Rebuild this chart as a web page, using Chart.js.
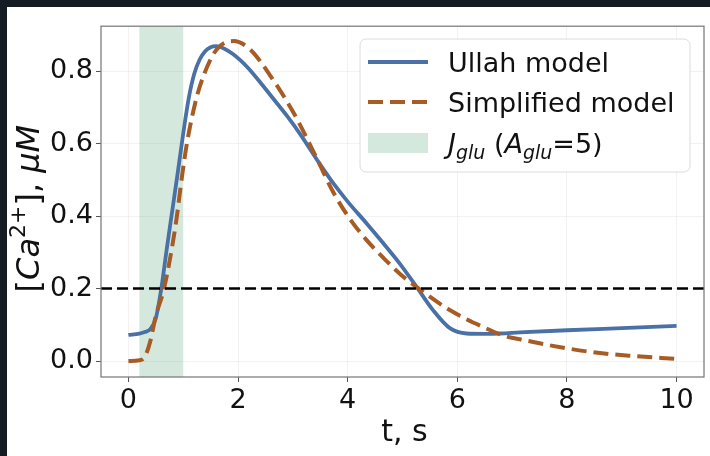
<!DOCTYPE html>
<html>
<head>
<meta charset="utf-8">
<script src="https://cdn.jsdelivr.net/npm/chart.js@4.4.1/dist/chart.umd.min.js"></script>
<style>
  html, body { margin: 0; padding: 0; background: #151b23; }
  #wrap { position: absolute; left: 7px; top: 7px; width: 703px; height: 449px; background: #fff; }
</style>
</head>
<body>
<div id="wrap"><canvas id="caChart" width="703" height="449"></canvas></div>
<script>
// ── data ──
const ullahT  = [0, 0.2, 0.3, 0.4, 0.5, 0.6, 0.7, 0.8, 0.9, 1.0, 1.1, 1.2, 1.3, 1.4, 1.5, 1.6, 1.75, 1.9, 2.05, 2.2, 2.4, 2.6, 2.89, 3.13, 3.5, 3.74, 4.0, 4.35, 4.65, 4.95, 5.26, 5.56, 5.87, 6.17, 6.5, 6.78, 7.14, 8, 9, 10];
const ullahCa = [0.072, 0.076, 0.08, 0.088, 0.118, 0.2, 0.31, 0.415, 0.52, 0.628, 0.725, 0.792, 0.832, 0.855, 0.866, 0.869, 0.862, 0.848, 0.829, 0.806, 0.77, 0.732, 0.677, 0.627, 0.542, 0.49, 0.44, 0.379, 0.325, 0.269, 0.204, 0.14, 0.09, 0.076, 0.075, 0.076, 0.079, 0.085, 0.091, 0.097];

const simpT  = [0, 0.2, 0.3, 0.4, 0.5, 0.65, 0.86, 0.98, 1.07, 1.22, 1.37, 1.61, 1.92, 2.22, 2.59, 3.01, 3.44, 3.74, 4.05, 4.35, 4.65, 4.95, 5.26, 5.87, 6.47, 6.87, 7.14, 8, 8.6, 9.2, 10];
const simpCa = [0, 0.002, 0.012, 0.055, 0.125, 0.2, 0.374, 0.512, 0.603, 0.713, 0.787, 0.86, 0.883, 0.86, 0.787, 0.686, 0.558, 0.465, 0.39, 0.333, 0.285, 0.241, 0.204, 0.14, 0.094, 0.069, 0.06, 0.035, 0.022, 0.014, 0.006];

const gluWindow = [0.2, 1.0];   // J_glu stimulus interval, s
const threshold = 0.2;          // dashed reference level
const xRange = [-0.5, 10.5];
const yRange = [-0.044, 0.924];
const xTicks = [0, 2, 4, 6, 8, 10];
const yTicks = [0, 0.2, 0.4, 0.6, 0.8];

const BLUE = '#4a71a6';
const BROWN = '#a85c25';
const FONT = '"DejaVu Sans", sans-serif';

// draw a run of text pieces (italic / sub / sup) starting at x
function richText(c, parts, x, y, size, align) {
  const fontOf = p => (p.it ? 'italic ' : '') + Math.round(p.sub || p.sup ? size * 0.7 : size) + 'px ' + FONT;
  let total = 0;
  parts.forEach(p => { c.font = fontOf(p); total += c.measureText(p.t).width; });
  let cx = align === 'center' ? x - total / 2 : x;
  c.textAlign = 'left';
  c.textBaseline = 'alphabetic';
  parts.forEach(p => {
    c.font = fontOf(p);
    let dy = 0;
    if (p.sub) dy = size * 0.22;
    if (p.sup) dy = -size * 0.45;
    c.fillText(p.t, cx, y + dy);
    cx += c.measureText(p.t).width;
  });
}

const extras = {
  id: 'extras',
  beforeDatasetsDraw(ch) {
    const { ctx: c, chartArea: a, scales: { x } } = ch;
    c.save();
    c.fillStyle = 'rgba(46,139,87,0.2)';
    const x0 = x.getPixelForValue(gluWindow[0]), x1 = x.getPixelForValue(gluWindow[1]);
    c.fillRect(x0, a.top, x1 - x0, a.bottom - a.top);
    c.restore();
  },
  afterDraw(ch) {
    const { ctx: c, chartArea: a } = ch;
    c.save();
    // frame
    c.strokeStyle = '#7a7a7a';
    c.lineWidth = 1.25;
    c.strokeRect(a.left, a.top, a.right - a.left, a.bottom - a.top);

    // legend
    const lx = 353, ly = 32, lw = 330, lh = 133;
    c.beginPath();
    c.roundRect(lx, ly, lw, lh, 6);
    c.fillStyle = 'rgba(255,255,255,0.85)';
    c.fill();
    c.strokeStyle = '#dcdcdc';
    c.lineWidth = 1;
    c.stroke();

    const hx0 = 361, hx1 = 421, tx = 441;
    const rows = [55, 95, 136];
    c.lineWidth = 4;
    c.strokeStyle = BLUE;
    c.beginPath(); c.moveTo(hx0, rows[0]); c.lineTo(hx1, rows[0]); c.stroke();
    c.strokeStyle = BROWN;
    c.setLineDash([15, 7]);
    c.beginPath(); c.moveTo(hx0, rows[1]); c.lineTo(hx1, rows[1]); c.stroke();
    c.setLineDash([]);
    c.fillStyle = 'rgba(46,139,87,0.2)';
    c.fillRect(hx0, rows[2] - 10, hx1 - hx0, 20);

    c.fillStyle = '#111';
    const fs = 27;
    richText(c, [{ t: 'Ullah model' }], tx, rows[0] + 10, fs);
    richText(c, [{ t: 'Simplified model' }], tx, rows[1] + 10, fs);
    richText(c, [
      { t: 'J', it: true }, { t: 'glu', it: true, sub: true }, { t: ' (' },
      { t: 'A', it: true }, { t: 'glu', it: true, sub: true }, { t: '=5)' }
    ], tx, rows[2] + 10, fs);

    // axis titles
    richText(c, [{ t: 't, s' }], (a.left + a.right) / 2 + 2, 434, 30, 'center');
    c.translate(21, (a.top + a.bottom) / 2 + 7);
    c.rotate(-Math.PI / 2);
    richText(c, [
      { t: '[' }, { t: 'Ca', it: true }, { t: '2+', sup: true }, { t: '], ' },
      { t: 'μM', it: true }
    ], 0, 11, 32, 'center');
    c.restore();
  }
};

const tickFont = { family: FONT, size: 27 };

new Chart(document.getElementById('caChart').getContext('2d'), {
  type: 'line',
  data: {
    datasets: [
      {
        label: 'threshold',
        data: xRange.map(v => ({ x: v, y: threshold })),
        borderColor: '#000',
        borderWidth: 2.5,
        borderDash: [11, 5],
        pointRadius: 0,
        order: 1
      },
      {
        label: 'Ullah model',
        data: ullahT.map((t, i) => ({ x: t, y: ullahCa[i] })),
        borderColor: BLUE,
        borderWidth: 3.8,
        pointRadius: 0,
        cubicInterpolationMode: 'monotone',
        order: 3
      },
      {
        label: 'Simplified model',
        data: simpT.map((t, i) => ({ x: t, y: simpCa[i] })),
        borderColor: BROWN,
        borderWidth: 4,
        borderDash: [15, 7],
        pointRadius: 0,
        cubicInterpolationMode: 'monotone',
        order: 2
      }
    ]
  },
  options: {
    responsive: false,
    animation: false,
    layout: { padding: { top: 18, right: 6, left: 0, bottom: 0 } },
    plugins: { legend: { display: false }, tooltip: { enabled: false } },
    scales: {
      x: {
        type: 'linear',
        min: xRange[0], max: xRange[1],
        afterBuildTicks: s => { s.ticks = xTicks.map(v => ({ value: v })); },
        afterFit: s => { s.height = 79; },
        ticks: { font: tickFont, color: '#111', padding: 3, maxRotation: 0, callback: v => String(v) },
        grid: { color: 'rgba(0,0,0,0.05)', tickColor: '#555', tickLength: 5 },
        border: { display: false }
      },
      y: {
        min: yRange[0], max: yRange[1],
        afterBuildTicks: s => { s.ticks = yTicks.map(v => ({ value: v })); },
        afterFit: s => { s.width = 94; },
        ticks: { font: tickFont, color: '#111', padding: 3, callback: v => v.toFixed(1) },
        grid: { color: 'rgba(0,0,0,0.05)', tickColor: '#555', tickLength: 5 },
        border: { display: false }
      }
    }
  },
  plugins: [extras]
});
</script>
</body>
</html>
